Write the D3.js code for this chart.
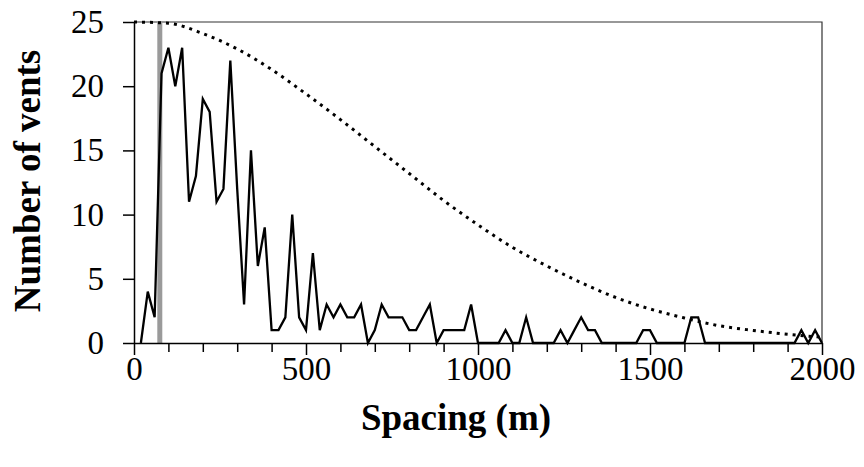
<!DOCTYPE html>
<html lang="en">
<head>
    <meta charset="UTF-8">
    <title>Vent spacing</title>
    <style>
        body { margin: 0; background: #fff; }
        .tick text { font-family: "Liberation Serif", "Times New Roman", serif; font-size: 33px; fill: #000; }
        .title { font-family: "Liberation Serif", "Times New Roman", serif; font-size: 37px; font-weight: bold; fill: #000; }
    </style>
</head>
<body>
    <script src="https://d3js.org/d3.v7.min.js"></script>
    <script>
        var width = 864;
        var height = 467;
        var margin = { top: 22, right: 42, bottom: 124, left: 134 };

        // vent counts per 20 m spacing bin
        var spacing = [20, 40, 60, 80, 100, 120, 140, 160, 180, 200,
            220, 240, 260, 280, 300, 320, 340, 360, 380, 400,
            420, 440, 460, 480, 500, 520, 540, 560, 580, 600,
            620, 640, 660, 680, 700, 720, 740, 760, 780, 800,
            820, 840, 860, 880, 900, 920, 940, 960, 980, 1000,
            1020, 1040, 1060, 1080, 1100, 1120, 1140, 1160, 1180, 1200,
            1220, 1240, 1260, 1280, 1300, 1320, 1340, 1360, 1380, 1400,
            1420, 1440, 1460, 1480, 1500, 1520, 1540, 1560, 1580, 1600,
            1620, 1640, 1660, 1680, 1700, 1720, 1740, 1760, 1780, 1800,
            1820, 1840, 1860, 1880, 1900, 1920, 1940, 1960, 1980, 2000];
        var vents = [0, 4, 2, 21, 23, 20, 23, 11, 13, 19,
            18, 11, 12, 22, 12, 3, 15, 6, 9, 1,
            1, 2, 10, 2, 1, 7, 1, 3, 2, 3,
            2, 2, 3, 0, 1, 3, 2, 2, 2, 1,
            1, 2, 3, 0, 1, 1, 1, 1, 3, 0,
            0, 0, 0, 1, 0, 0, 2, 0, 0, 0,
            0, 1, 0, 1, 2, 1, 1, 0, 0, 0,
            0, 0, 0, 1, 1, 0, 0, 0, 0, 0,
            2, 2, 0, 0, 0, 0, 0, 0, 0, 0,
            0, 0, 0, 0, 0, 0, 1, 0, 1, 0];

        // dotted reference curve
        var curveX = [0, 100, 200, 300, 400, 500, 600, 700, 800, 900, 1000,
            1100, 1200, 1300, 1400, 1500, 1600, 1700, 1800, 1900, 2000];
        var curveY = [25, 24.9, 24.1, 22.9, 21.3, 19.4, 17.4, 15.3, 13.2, 11.1, 9.2,
            7.45, 6.0, 4.7, 3.55, 2.65, 1.95, 1.35, 0.98, 0.68, 0.45];

        var markerX = 75; // grey vertical bar
        var xMajor = [0, 500, 1000, 1500, 2000];
        var xMinor = [100, 200, 300, 400, 600, 700, 800, 900, 1100, 1200, 1300, 1400, 1600, 1700, 1800, 1900];
        var yTicks = [0, 5, 10, 15, 20, 25];

        var svg = d3.select('body').append('svg')
            .attr('width', width)
            .attr('height', height);

        var x = d3.scaleLinear().domain([0, 2000]).range([margin.left, width - margin.right]);
        var y = d3.scaleLinear().domain([0, 25]).range([height - margin.bottom, margin.top]);

        // frame top/right
        svg.append('path')
            .attr('d', 'M' + x(0) + ',' + y(25) + 'H' + x(2000) + 'V' + y(0))
            .attr('fill', 'none')
            .attr('stroke', '#333')
            .attr('stroke-width', 1.2);

        // grey bar
        svg.append('line')
            .attr('x1', x(markerX)).attr('x2', x(markerX))
            .attr('y1', y(0)).attr('y2', y(25))
            .attr('stroke', '#9a9a9a')
            .attr('stroke-width', 5);

        // minor x ticks
        svg.append('g')
            .attr('transform', 'translate(0,' + y(0) + ')')
            .call(d3.axisBottom(x).tickValues(xMinor).tickSize(9).tickFormat(''))
            .call(function(g) { g.select('.domain').remove(); })
            .selectAll('line').attr('stroke-width', 1.5);

        var xAxis = svg.append('g')
            .attr('transform', 'translate(0,' + y(0) + ')')
            .call(d3.axisBottom(x).tickValues(xMajor).tickSize(12).tickPadding(2)
                .tickSizeOuter(0).tickFormat(d3.format('d')));
        xAxis.selectAll('line').attr('stroke-width', 1.5);
        xAxis.select('.domain').attr('stroke-width', 1.5);

        var yAxis = svg.append('g')
            .attr('transform', 'translate(' + x(0) + ',0)')
            .call(d3.axisLeft(y).tickValues(yTicks).tickSize(11).tickPadding(19).tickSizeOuter(0));
        yAxis.selectAll('line').attr('stroke-width', 1.5);
        yAxis.select('.domain').attr('stroke-width', 1.5);

        // dotted curve
        var dotted = d3.line()
            .x(function(d, i) { return x(curveX[i]); })
            .y(function(d) { return y(d); })
            .curve(d3.curveMonotoneX);
        svg.append('path')
            .attr('d', dotted(curveY))
            .attr('fill', 'none')
            .attr('stroke', '#000')
            .attr('stroke-width', 3)
            .attr('stroke-dasharray', '3,5');

        // vent counts
        var line = d3.line()
            .x(function(d, i) { return x(spacing[i]); })
            .y(function(d) { return y(d); });
        svg.append('path')
            .attr('d', line(vents))
            .attr('fill', 'none')
            .attr('stroke', '#000')
            .attr('stroke-width', 2.3)
            .attr('stroke-linejoin', 'miter');

        svg.append('text')
            .attr('class', 'title')
            .attr('x', 456)
            .attr('y', 430)
            .attr('text-anchor', 'middle')
            .text('Spacing (m)');

        svg.append('text')
            .attr('class', 'title')
            .attr('transform', 'translate(40,181) rotate(-90)')
            .attr('text-anchor', 'middle')
            .text('Number of vents');
    </script>
</body>
</html>
